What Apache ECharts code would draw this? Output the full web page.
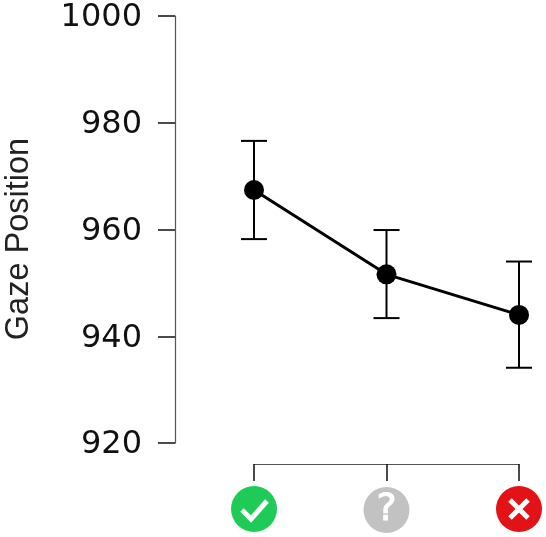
<!DOCTYPE html>
<html><head><meta charset="utf-8">
<style>html,body{margin:0;padding:0;background:#fff}#c{width:546px;height:537px}</style>
<script src="https://cdn.jsdelivr.net/npm/echarts@6/dist/echarts.min.js"></script>
</head><body><div id="c"></div>
<script>
const categories = ['correct', 'unsure', 'wrong'];
const means = [967.4, 951.6, 944.0];
const errLow = [958.2, 943.4, 934.1];
const errHigh = [976.6, 959.9, 954.0];
const yTicks = [920, 940, 960, 980, 1000];
const yTitle = 'Gaze Position';

const chart = echarts.init(document.getElementById('c'), null, {renderer: 'canvas'});
const icon = (bg, glyph) => 'data:image/svg+xml;utf8,' + encodeURIComponent(
  '<svg xmlns="http://www.w3.org/2000/svg" width="46" height="46" viewBox="0 0 46 46">' +
  '<circle cx="23" cy="23" r="23" fill="' + bg + '"/>' +
  '<path d="' + glyph + '" fill="none" stroke="#fff" stroke-width="5"/></svg>');
const checkGlyph = 'M11 24 L20 33 L36 15';
const crossGlyph = 'M14 14 L32 32 M32 14 L14 32';
const imgBadge = (bg, glyph) => ({
  backgroundColor: {image: icon(bg, glyph)}, width: 46, height: 46, lineHeight: 46, align: 'center'
});
chart.setOption({
  animation: false,
  backgroundColor: '#fff',
  grid: {left: 254, right: 27, top: 16, height: 427, outerBoundsMode: 'none'},
  xAxis: {
    type: 'category', data: categories, boundaryGap: false, offset: 21,
    axisLine: {show: true, lineStyle: {color: '#555', width: 1.2}},
    axisTick: {show: true, alignWithLabel: true, length: 17, lineStyle: {color: '#111', width: 1.5}},
    splitLine: {show: false},
    axisLabel: {
      interval: 0, margin: 22, hideOverlap: false, showMinLabel: true, showMaxLabel: true,
      formatter: (v) => {
        const i = categories.indexOf(v);
        return ['{a| }', '{b|?}', '{c| }'][i];
      },
      rich: {
        a: imgBadge('#1fcb57', checkGlyph),
        b: {backgroundColor: '#c2c2c2', borderRadius: 23, width: 46, height: 46, lineHeight: 48,
            align: 'center', color: '#fff', fontSize: 38, fontFamily: 'DejaVu Sans',
            textBorderColor: '#fff', textBorderWidth: 1},
        c: imgBadge('#e31216', crossGlyph)
      }
    }
  },
  yAxis: {
    type: 'value', min: 920, max: 1000, interval: 20, offset: 79,
    axisLine: {show: true, lineStyle: {color: '#555', width: 1.2}},
    axisTick: {show: true, length: 17, lineStyle: {color: '#111', width: 1.5}},
    splitLine: {show: false},
    axisLabel: {margin: 33,
      formatter: (v) => yTicks.includes(v) ? '{n|' + v + '}' : '',
      rich: {n: {fontSize: 32, color: '#111', fontFamily: 'DejaVu Sans', lineHeight: 36, padding: [4, 0, 0, 0]}}},
    name: yTitle, nameLocation: 'middle', nameGap: 139, nameRotate: 90,
    nameTextStyle: {fontSize: 32.5, color: '#222', fontFamily: 'Liberation Sans', padding: [0, 19, 0, 0]}
  },
  series: [
    {
      type: 'custom', z: 2, silent: true,
      data: categories.map((c, i) => [i, errLow[i], errHigh[i]]),
      encode: {x: 0, y: [1, 2]},
      renderItem: (p, api) => {
        const lo = api.coord([api.value(0), api.value(1)]);
        const hi = api.coord([api.value(0), api.value(2)]);
        const s = {stroke: '#000', lineWidth: 2};
        const w = 13;
        return {type: 'group', children: [
          {type: 'line', shape: {x1: lo[0], y1: lo[1], x2: hi[0], y2: hi[1]}, style: s},
          {type: 'line', shape: {x1: lo[0] - w, y1: lo[1], x2: lo[0] + w, y2: lo[1]}, style: s},
          {type: 'line', shape: {x1: hi[0] - w, y1: hi[1], x2: hi[0] + w, y2: hi[1]}, style: s}
        ]};
      }
    },
    {
      type: 'line', z: 3, data: means, symbol: 'circle', symbolSize: 20, showAllSymbol: true,
      lineStyle: {color: '#000', width: 3}, itemStyle: {color: '#000'}
    }
  ]
});
</script></body></html>
